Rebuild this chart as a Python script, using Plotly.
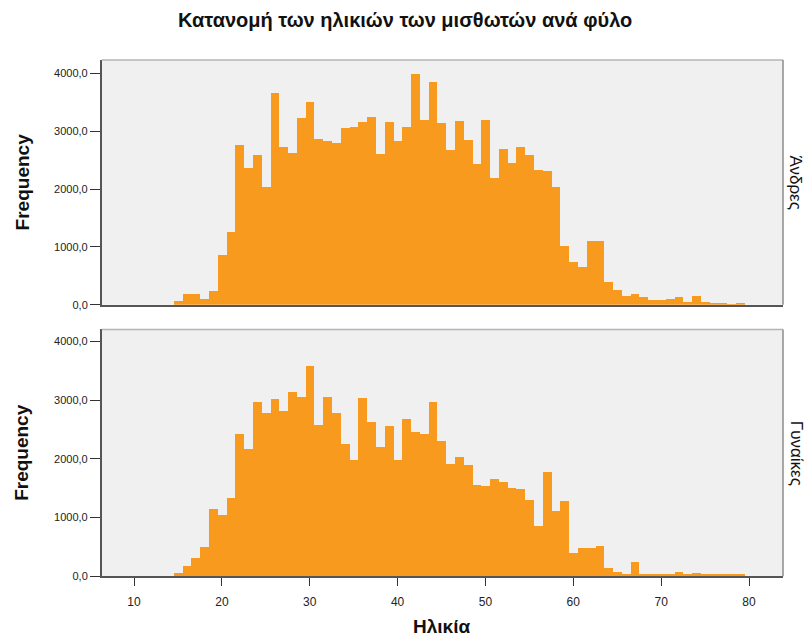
import plotly.graph_objects as go

# Age histograms of employees, one panel per sex (1-year bins centred on integer ages)
ages = list(range(15, 80))

men = [75, 183, 180, 103, 246, 863, 1262, 2757, 2358, 2598,
       2044, 3659, 2734, 2620, 3231, 3500, 2872, 2837, 2803, 3060,
       3082, 3157, 3243, 2603, 3157, 2837, 3082, 3996, 3202, 3853,
       3140, 2683, 3174, 2843, 2438, 3191, 2187, 2688, 2455, 2729,
       2598, 2324, 2306, 2038, 1010, 748, 657, 1113, 1113, 394,
       257, 154, 195, 144, 86, 80, 110, 137, 58, 154,
       58, 41, 29, 12, 17]

women = [45, 169, 298, 489, 1142, 1040, 1322, 2423, 2165, 2958,
         2772, 3019, 2811, 3137, 3042, 3565, 2563, 3047, 2772, 2249,
         1979, 3025, 2620, 2199, 2547, 1979, 2665, 2452, 2412, 2968,
         2294, 1900, 2024, 1889, 1546, 1535, 1642, 1597, 1496, 1479,
         1299, 843, 1760, 1096, 1277, 388, 479, 479, 506, 141,
         62, 28, 242, 28, 28, 34, 28, 62, 28, 45,
         22, 17, 17, 17, 17]

x_ticks = [10, 20, 30, 40, 50, 60, 70, 80]
y_ticks = [0, 1000, 2000, 3000, 4000]
y_tick_text = ["0,0", "1000,0", "2000,0", "3000,0", "4000,0"]

panel_labels = ["Άνδρες", "Γυναίκες"]
title_text = "Κατανομή των ηλικιών των μισθωτών ανά φύλο"
x_title = "Ηλικία"
y_title = "Frequency"

BAR = "#F89A1E"
BG = "#F0F0F0"
FONT = "Liberation Sans, Arial, sans-serif"

W, H = 807, 642
x_dom = [101.7 / W, 783 / W]
top_dom = [1 - 307.7 / H, 1 - 60.5 / H]
bot_dom = [1 - 581.7 / H, 1 - 332.5 / H]
x_range = [6.32, 83.87]

fig = go.Figure()
fig.add_trace(go.Bar(x=ages, y=men, width=1, marker=dict(color=BAR, line=dict(width=0)),
                     xaxis="x", yaxis="y", showlegend=False))
fig.add_trace(go.Bar(x=ages, y=women, width=1, marker=dict(color=BAR, line=dict(width=0)),
                     xaxis="x2", yaxis="y2", showlegend=False))

yaxis_common = dict(
    tickvals=y_ticks, ticktext=y_tick_text, ticks="outside", ticklen=10,
    tickcolor="#333333", tickwidth=1.2, showgrid=False, zeroline=False,
    showline=True, linecolor="#555555", linewidth=1.5,
    tickfont=dict(family=FONT, size=11, color="#222222"),
)

fig.update_layout(
    width=W, height=H,
    margin=dict(l=0, r=0, t=0, b=0),
    paper_bgcolor="white", plot_bgcolor=BG,
    bargap=0,
    xaxis=dict(domain=x_dom, range=x_range, anchor="y", showticklabels=False,
               ticks="", showgrid=False, zeroline=False, showline=True,
               linecolor="#555555", linewidth=1.5),
    yaxis=dict(domain=top_dom, range=[0, 4233], anchor="x", **yaxis_common),
    xaxis2=dict(domain=x_dom, range=x_range, anchor="y2", tickvals=x_ticks,
                ticks="outside", ticklen=8, tickcolor="#333333", tickwidth=1.2,
                ticklabelstandoff=6,
                showgrid=False, zeroline=False, showline=True,
                linecolor="#555555", linewidth=1.5,
                tickfont=dict(family=FONT, size=12, color="#222222")),
    yaxis2=dict(domain=bot_dom, range=[0, 4202], anchor="x2", **yaxis_common),
)

# Light frame on the top and right sides of each panel
for xr, yr in (("x", "y"), ("x2", "y2")):
    fig.add_shape(type="line", xref=f"{xr} domain", yref=f"{yr} domain",
                  x0=0, x1=1, y0=1, y1=1, line=dict(color="#B4B4B4", width=1.5))
    fig.add_shape(type="line", xref=f"{xr} domain", yref=f"{yr} domain",
                  x0=1, x1=1, y0=0, y1=1, line=dict(color="#8C8C8C", width=1.5))

def label(text, x, y, size, angle=0, bold=True):
    return dict(text=f"<b>{text}</b>" if bold else text, x=x / W, y=1 - y / H,
                xref="paper", yref="paper", xanchor="center", yanchor="middle",
                showarrow=False, textangle=angle,
                font=dict(family=FONT, size=size, color="#111111"))

ann = [label(title_text, 405, 20, 20), label(x_title, 441, 632, 19)]
for dom in (top_dom, bot_dom):
    ann.append(label(y_title, 22, H * (1 - (dom[0] + dom[1]) / 2), 19, angle=-90))
for dom, lab in zip((top_dom, bot_dom), panel_labels):
    ann.append(label(lab, 796, H * (1 - (dom[0] + dom[1]) / 2), 17, angle=90, bold=False))
fig.update_layout(annotations=ann)

fig.write_html("out.html")
